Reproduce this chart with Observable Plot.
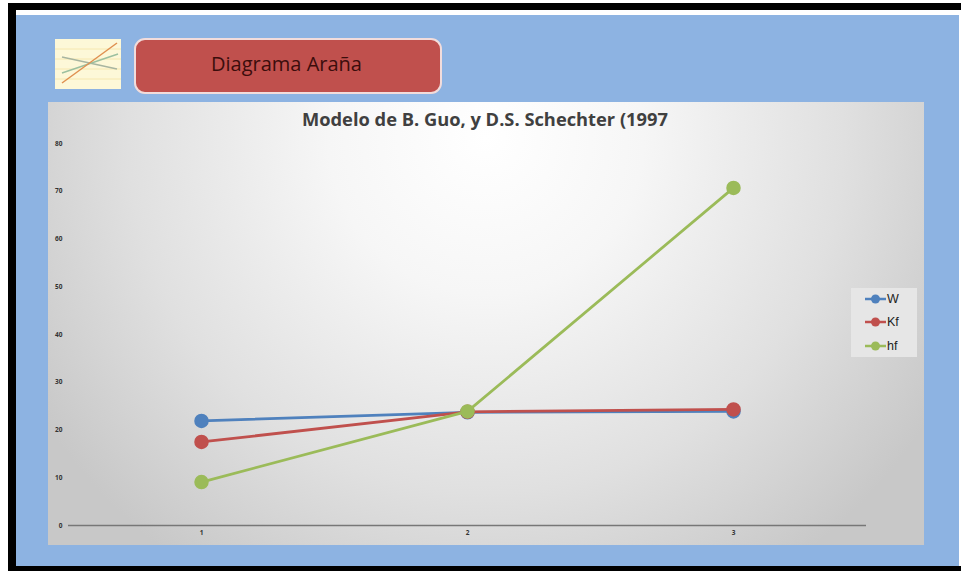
<!DOCTYPE html>
<html lang="es">
<head>
<meta charset="utf-8">
<script src="https://cdn.jsdelivr.net/npm/d3@7"></script>
<script src="https://cdn.jsdelivr.net/npm/@observablehq/plot@0.6"></script>
<style>
  html, body { margin: 0; padding: 0; background: #fff; }
  #page { position: relative; width: 961px; height: 571px; overflow: hidden; background: #fff; }
  #page > div, #page > svg { position: absolute; box-sizing: border-box; }
  #frame { left: 8px; top: 3px; width: 953px; height: 568px; background: #000; }
  #inner { left: 16px; top: 10px; width: 945px; height: 556px; background: #fff; }
  #blue { left: 16px; top: 15px; width: 943px; height: 551px; background: #8db3e2; }
  #panel { left: 48px; top: 102px; width: 876px; height: 443px;
    background: radial-gradient(ellipse 60% 118% at 50% 8%, #ffffff 0%, #f6f6f6 30%, #e0e0e0 68%, #c8c8c8 100%); }
  #logo { left: 55px; top: 39px; width: 66px; height: 50px; }
  #banner { left: 134px; top: 38px; width: 308px; height: 56px; background: #c0504d;
    border: 2px solid #f2dcdb; border-radius: 11px; color: #3b0d0c;
    font: 20px "Open Sans", sans-serif; line-height: 47px; padding-left: 75px; }
  #title { left: 302px; top: 106px; white-space: nowrap;
    font: bold 18.3px "Open Sans", sans-serif; color: #404040; }
  #legend { left: 851px; top: 288px; width: 66px; height: 69px; background: #e6e6e6; }
  .item { position: absolute; left: 14px; width: 52px; height: 20px;
    font: 12.5px "Liberation Sans", sans-serif; color: #222; line-height: 20px; }
  .item svg { position: absolute; left: 0; top: 0; }
  .item span { position: absolute; left: 22px; top: 0; }
  #chart svg { background: transparent !important; }
  #chart { left: 0; top: 0; }
</style>
</head>
<body>
<div id="page">
  <div id="frame"></div>
  <div id="inner"></div>
  <div id="blue"></div>
  <div id="panel"></div>
  <svg id="logo" viewBox="0 0 66 50">
    <rect width="66" height="50" fill="#fdf8d8"/>
    <path d="M0 10H66M0 20H66M0 30H66M0 40H66" stroke="#f6e8b0" stroke-width="1"/>
    <path d="M7 18L62 30" stroke="#a8b5a0" stroke-width="1.5" fill="none"/>
    <path d="M7 34L63 15" stroke="#9cc0a0" stroke-width="1.5" fill="none"/>
    <path d="M7 44L62 4" stroke="#e09050" stroke-width="1.5" fill="none"/>
  </svg>
  <div id="banner">Diagrama Araña</div>
  <div id="chart"></div>
  <div id="title">Modelo de B. Guo, y D.S. Schechter (1997</div>
  <div id="legend"></div>
</div>
<script>
const categories = [1, 2, 3];
const seriesNames = ["W", "Kf", "hf"];
const seriesColors = ["#4f81bd", "#c0504d", "#9bbb59"];
const valuesW = [21.9, 23.7, 23.9];
const valuesKf = [17.5, 23.8, 24.3];
const valuesHf = [9.1, 23.9, 70.7];
const yTicks = [0, 10, 20, 30, 40, 50, 60, 70, 80];

const allValues = [valuesW, valuesKf, valuesHf];
const marks = [
  Plot.ruleY([0], {stroke: "#777", strokeWidth: 1.5}),
  Plot.axisY({ticks: yTicks, tickSize: 0, tickPadding: 6, label: null, fontSize: 6.5, fontWeight: "bold", fill: "#333"}),
  Plot.axisX({ticks: categories, tickSize: 0, tickPadding: 5, label: null, fontSize: 6.5, fontWeight: "bold", fill: "#333", tickFormat: d => String(d)})
];
seriesNames.forEach((name, s) => {
  const rows = categories.map((c, i) => ({category: c, value: allValues[s][i], series: name}));
  marks.push(Plot.line(rows, {x: "category", y: "value", stroke: seriesColors[s], strokeWidth: 2.75}));
  marks.push(Plot.dot(rows, {x: "category", y: "value", r: 6.5, fill: seriesColors[s], stroke: seriesColors[s]}));
});

const plot = Plot.plot({
  width: 961,
  height: 571,
  marginLeft: 68,
  marginRight: 95,
  marginTop: 143,
  marginBottom: 46,
  x: {domain: [0.5, 3.5], type: "linear"},
  y: {domain: [0, 80]},
  style: {background: "transparent"},
  marks
});
document.getElementById("chart").appendChild(plot);

const legend = document.getElementById("legend");
const itemTops = [1, 24, 48];
seriesNames.forEach((name, s) => {
  const item = document.createElement("div");
  item.className = "item";
  item.style.top = itemTops[s] + "px";
  item.innerHTML = `<svg width="22" height="20"><line x1="0" x2="21" y1="10" y2="10" stroke="${seriesColors[s]}" stroke-width="2.5"/><circle cx="10.5" cy="10" r="4.5" fill="${seriesColors[s]}"/></svg><span>${name}</span>`;
  legend.appendChild(item);
});
</script>
</body>
</html>
